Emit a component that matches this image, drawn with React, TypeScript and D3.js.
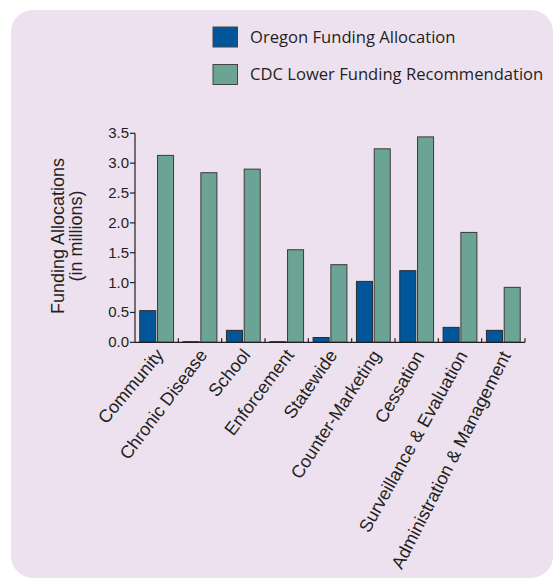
import React from "react";
import * as d3 from "d3";

const categories = [
  "Community",
  "Chronic Disease",
  "School",
  "Enforcement",
  "Statewide",
  "Counter-Marketing",
  "Cessation",
  "Surveillance & Evaluation",
  "Administration & Management",
];
const oregonValues = [0.53, 0.01, 0.2, 0.01, 0.08, 1.02, 1.2, 0.25, 0.2];
const cdcValues = [3.13, 2.84, 2.9, 1.55, 1.3, 3.24, 3.44, 1.84, 0.92];
const yTicks = [0, 0.5, 1.0, 1.5, 2.0, 2.5, 3.0, 3.5];
const seriesNames = ["Oregon Funding Allocation", "CDC Lower Funding Recommendation"];
const seriesColors = ["#01569a", "#6ba394"];

// label rotation (style): the reference fans its category labels slightly
const labelAngles = [-50, -53, -51, -53, -55, -57, -60, -61, -63];

export default function App() {
  const W = 556;
  const H = 579;
  const x0 = 135;
  const x1 = 525;
  const yBottom = 342.3;
  const yTop = 133.3;

  const x = d3.scaleBand<string>().domain(categories).range([x0, x1]).paddingInner(0).paddingOuter(0);
  const y = d3.scaleLinear().domain([0, 3.5]).range([yBottom, yTop]);
  const bw = x.bandwidth();
  const barW = bw * 0.37;
  const gap = bw * 0.04;
  const padL = (bw - 2 * barW - gap) / 2;

  const axisFont = "'Liberation Sans', Arial, Helvetica, sans-serif";
  const legendFont = "'Open Sans', 'Noto Sans', sans-serif";

  return (
    <svg width={W} height={H} style={{ position: "absolute", left: 0, top: 0 }}>
      <rect x={11} y={10} width={542} height={568} rx={22} ry={22} fill="#ede1ef" />

      {/* legend */}
      {seriesNames.map((name, i) => (
        <g key={name} transform={`translate(213, ${27 + i * 37.5})`}>
          <rect x={0} y={0} width={24.5} height={20} fill={seriesColors[i]} stroke="#444" strokeWidth={1} />
          <text x={37} y={15.5} fontFamily={legendFont} fontSize={16.6} fill="#231f20">
            {name}
          </text>
        </g>
      ))}

      {/* bars */}
      {categories.map((c, i) => {
        const gx = x(c)!;
        return (
          <g key={c}>
            <rect
              x={gx + padL}
              y={y(oregonValues[i])}
              width={barW}
              height={yBottom - y(oregonValues[i])}
              fill={seriesColors[0]}
              stroke="#2b2b2b"
              strokeWidth={1}
            />
            <rect
              x={gx + padL + barW + gap}
              y={y(cdcValues[i])}
              width={barW}
              height={yBottom - y(cdcValues[i])}
              fill={seriesColors[1]}
              stroke="#3a3a3a"
              strokeWidth={1}
            />
          </g>
        );
      })}

      {/* y axis */}
      <line x1={x0} x2={x0} y1={yTop} y2={yBottom} stroke="#231f20" strokeWidth={1.2} />
      {yTicks.map((t) => (
        <g key={t}>
          <line x1={x0 - 5} x2={x0} y1={y(t)} y2={y(t)} stroke="#231f20" strokeWidth={1.2} />
          <text
            x={x0 - 6}
            y={y(t) + 5}
            textAnchor="end"
            fontFamily={axisFont}
            fontSize={15}
            fill="#231f20"
          >
            {t.toFixed(1)}
          </text>
        </g>
      ))}

      {/* x axis */}
      <line x1={x0} x2={x1} y1={yBottom} y2={yBottom} stroke="#231f20" strokeWidth={1.2} />
      {categories.map((c) => (
        <line
          key={"t" + c}
          x1={x(c)! + bw}
          x2={x(c)! + bw}
          y1={yBottom}
          y2={yBottom - 4}
          stroke="#231f20"
          strokeWidth={1.2}
        />
      ))}
      {categories.map((c, i) => {
        const cx = x(c)! + bw / 2 + 8;
        const cy = yBottom + 13;
        return (
          <text
            key={"l" + c}
            transform={`translate(${cx},${cy}) rotate(${labelAngles[i]})`}
            textAnchor="end"
            fontFamily={axisFont}
            fontSize={18}
            fill="#231f20"
          >
            {c}
          </text>
        );
      })}

      {/* y title */}
      <g transform={`translate(0, 236) rotate(-90)`} fontFamily={axisFont} fontSize={18} fill="#231f20" textAnchor="middle">
        <text x={0} y={64}>Funding Allocations</text>
        <text x={0} y={82}>(in millions)</text>
      </g>
    </svg>
  );
}
